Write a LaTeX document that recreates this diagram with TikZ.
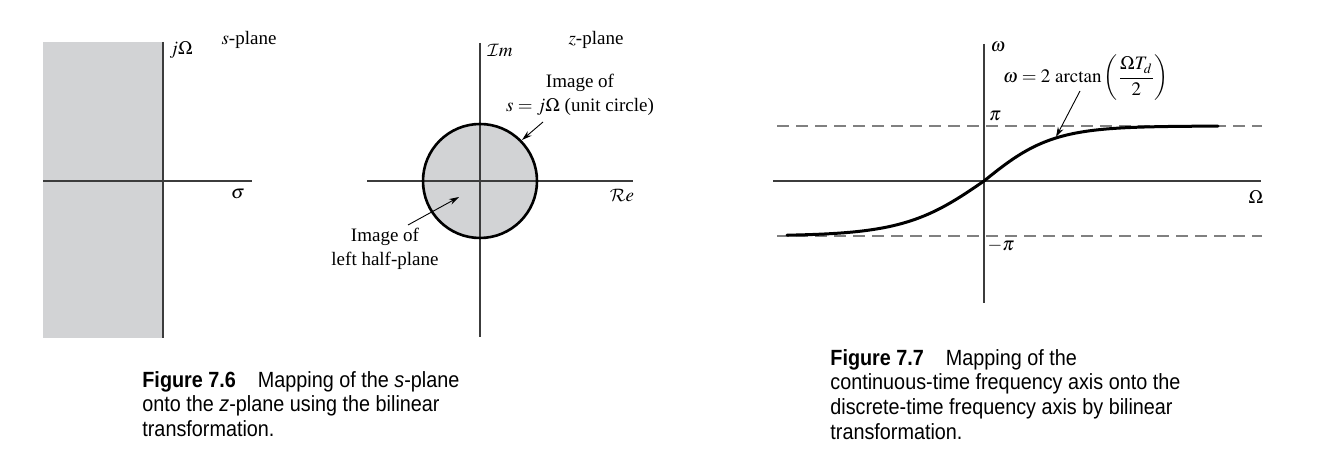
\documentclass[tikz,border=0pt]{standalone}
\usepackage{mathptmx}
\DeclareMathAlphabet{\mathcal}{OMS}{cmsy}{m}{n}
\usepackage{fontspec}
\setmainfont{Liberation Serif}
\newfontfamily\capfont[FakeStretch=0.9]{Liberation Sans}
\usetikzlibrary{arrows.meta}
\definecolor{regionfill}{RGB}{210,211,213}
\definecolor{axisc}{RGB}{60,60,60}
\tikzset{
  ax/.style={draw=axisc,line width=0.6pt},
  lbl/.style={font=\fontsize{9.5}{12}\selectfont,inner sep=0pt},
  note/.style={font=\fontsize{9.5}{12}\selectfont,align=center,inner sep=0pt},
  captext/.style={font=\capfont\fontsize{11}{12.3}\selectfont,align=left,anchor=north west,inner sep=0pt},
  pointer/.style={draw=black,line width=0.45pt,-{Stealth[length=5pt,width=3pt]}},
  dash line/.style={draw=gray,line width=0.6pt,dash pattern=on 6pt off 3.5pt}
}
\begin{document}
\begin{tikzpicture}[x=0.5pt,y=-0.5pt]
\useasboundingbox (0,0) rectangle (1323,475);
% ---------- s-plane ----------
\fill[regionfill] (43,42) rectangle (163,338);
\coordinate (sT) at (163,42); \coordinate (sB) at (163,338);
\coordinate (sL) at (43,181); \coordinate (sR) at (252,181);
\draw[ax] (sT) -- (sB);
\draw[ax] (sL) -- (sR);
\node[lbl] (jO) at (181,50) {$j\Omega$};
\node[lbl] (spl) at (249,40) {$s$-plane};
\node[lbl] (sig) at (238,194) {$\sigma$};
% ---------- z-plane ----------
\coordinate (zc) at (480,181);
\fill[regionfill] (zc) circle (57);
\coordinate (zT) at (480,43); \coordinate (zB) at (480,337);
\coordinate (zL) at (367,181); \coordinate (zR) at (633,181);
\draw[ax] (zT) -- (zB);
\draw[ax] (zL) -- (zR);
\draw[line width=1.3pt] (zc) circle (57);
\node[lbl] (Im) at (500,50) {$\mathcal{I}m$};
\node[lbl] (zpl) at (596,40) {$z$-plane};
\node[lbl] (Re) at (622,195) {$\mathcal{R}e$};
\node[note] (imgc) at (580,95) {Image of\\ $s=j\Omega$ (unit circle)};
\node[note] (imgl) at (385,249) {Image of\\ left half-plane};
\coordinate (ucpt) at (522,140);
\coordinate (lhpt) at (459,197);
\draw[pointer] (543,122) -- (ucpt);
\draw[pointer] (408,225) -- (lhpt);
% ---------- frequency warping ----------
\coordinate (wT) at (984,44); \coordinate (wB) at (984,303);
\coordinate (wL) at (773,181); \coordinate (wR) at (1261,181);
\draw[ax] (wT) -- (wB);
\draw[ax] (wL) -- (wR);
\coordinate (pL) at (777,126); \coordinate (pR) at (1262,126);
\coordinate (mL) at (777,236); \coordinate (mR) at (1262,236);
\draw[dash line] (pL) -- (pR);
\draw[dash line] (mL) -- (mR);
\draw[line width=1.5pt,line cap=round]
  plot[domain=-197:0,samples=80,smooth] ({984+\x},{181-55*tanh(0.0125*\x)})
  -- plot[domain=0:234,samples=80,smooth] ({984+\x},{181-55*tanh(0.0146*\x)});
\node[lbl] (om) at (998,47) {$\omega$};
\node[lbl] (OM) at (1256,197) {$\Omega$};
\node[lbl] (pi) at (995,116) {$\pi$};
\node[lbl] (mpi) at (1001,246) {$-\pi$};
\node[lbl] (eq) at (1086,78) {$\displaystyle\omega = 2\ \mathrm{arctan}\left(\frac{\Omega T_d}{2}\right)$};
\coordinate (cpt) at (1056,137);
\draw[pointer] (1080,91) -- (cpt);
% ---------- captions ----------
\node[captext] (c6) at (142,371) {\textbf{Figure 7.6}\hspace{1em}Mapping of the \textit{s}-plane\\onto the \textit{z}-plane using the bilinear\\transformation.};
\node[captext] (c7) at (830,349) {\textbf{Figure 7.7}\hspace{1em}Mapping of the\\continuous-time frequency axis onto the\\discrete-time frequency axis by bilinear\\transformation.};
\end{tikzpicture}
\end{document}
